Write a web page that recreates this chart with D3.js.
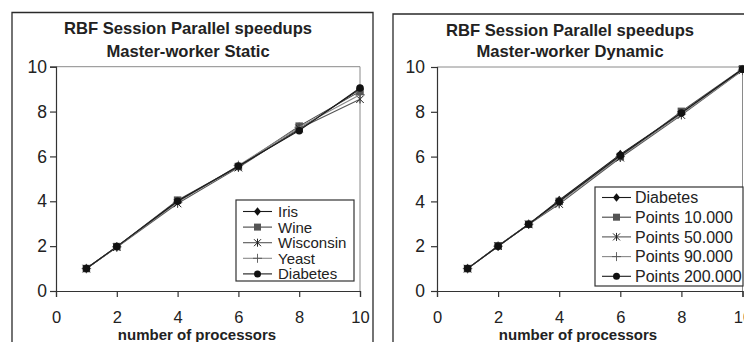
<!DOCTYPE html>
<html>
<head>
<meta charset="utf-8">
<script src="https://cdn.jsdelivr.net/npm/d3@7/dist/d3.min.js"></script>
<style>
  html, body { margin: 0; padding: 0; background: #fff; }
  svg { display: block; font-family: "Liberation Sans", Arial, sans-serif; }
</style>
</head>
<body>
<svg id="chart" width="744" height="342"></svg>
<script>
// Speedup measurements (speedup vs. number of processors)
const staticProcessors = [1, 2, 4, 6, 8, 10];
const staticSeriesNames = ["Iris", "Wine", "Wisconsin", "Yeast", "Diabetes"];
const staticIris      = [1, 1.97, 4.00, 5.55, 7.20, 9.00];
const staticWine      = [1, 1.98, 4.05, 5.55, 7.35, 8.90];
const staticWisconsin = [1, 1.95, 3.90, 5.50, 7.25, 8.55];
const staticYeast     = [1, 1.97, 3.95, 5.60, 7.30, 8.75];
const staticDiabetes  = [1, 1.98, 4.00, 5.57, 7.15, 9.05];

const dynamicProcessors = [1, 2, 3, 4, 6, 8, 10];
const dynamicSeriesNames = ["Diabetes", "Points 10.000", "Points 50.000", "Points 90.000", "Points 200.000"];
const dynamicDiabetes  = [1, 2.00, 2.98, 4.05, 6.10, 7.95, 9.90];
const dynamicP10000    = [1, 2.02, 2.98, 4.00, 6.00, 8.02, 9.92];
const dynamicP50000    = [1, 2.00, 2.97, 3.88, 5.95, 7.85, 9.85];
const dynamicP90000    = [1, 2.00, 2.98, 3.95, 6.00, 7.90, 9.85];
const dynamicP200000   = [1, 2.00, 2.98, 4.00, 6.05, 7.95, 9.90];

const axisTicks = [0, 2, 4, 6, 8, 10];
const titleLine1 = "RBF Session Parallel speedups";
const staticTitleLine2 = "Master-worker Static";
const dynamicTitleLine2 = "Master-worker Dynamic";
const xAxisTitle = "number of processors";

// marker style per legend position
const markerKinds = ["diamond", "square", "asterisk", "plus", "circle"];
const lineColors  = ["#1a1a1a", "#444", "#555", "#888", "#1a1a1a"];
const markFill    = ["#111", "#555", "#222", "#555", "#111"];

const svg = d3.select("#chart");

function drawMarker(g, kind, cx, cy, s, fill) {
  const h = s / 2;
  if (kind === "diamond") {
    g.append("path").attr("d", `M${cx},${cy - h - 0.8}L${cx + h},${cy}L${cx},${cy + h + 0.8}L${cx - h},${cy}Z`)
      .attr("fill", fill);
  } else if (kind === "square") {
    g.append("rect").attr("x", cx - h).attr("y", cy - h).attr("width", s).attr("height", s).attr("fill", fill);
  } else if (kind === "circle") {
    g.append("circle").attr("cx", cx).attr("cy", cy).attr("r", h).attr("fill", fill);
  } else if (kind === "asterisk") {
    g.append("path").attr("d",
      `M${cx - h},${cy - h}L${cx + h},${cy + h}M${cx - h},${cy + h}L${cx + h},${cy - h}M${cx},${cy - h - 0.5}L${cx},${cy + h + 0.5}`)
      .attr("stroke", fill).attr("stroke-width", 1).attr("fill", "none");
  } else if (kind === "plus") {
    g.append("path").attr("d", `M${cx - h - 1},${cy}L${cx + h + 1},${cy}M${cx},${cy - h - 1}L${cx},${cy + h + 1}`)
      .attr("stroke", fill).attr("stroke-width", 0.9).attr("fill", "none");
  }
}

function drawPanel(cfg) {
  const g = svg.append("g");

  // outer chart frame (runs past the bottom of the view)
  g.append("path")
    .attr("d", `M${cfg.frame.x0},360V${cfg.frame.y0}H${cfg.frame.x1}V360`)
    .attr("fill", "none").attr("stroke", "#2a2a2a").attr("stroke-width", 1.3);

  // titles
  g.append("text").attr("x", cfg.titleX).attr("y", cfg.titleY1).attr("text-anchor", "middle")
    .attr("font-weight", "bold").attr("font-size", 16.6).attr("fill", "#222").text(titleLine1);
  g.append("text").attr("x", cfg.titleX).attr("y", cfg.titleY2).attr("text-anchor", "middle")
    .attr("font-weight", "bold").attr("font-size", 16.6).attr("fill", "#222").text(cfg.title2);

  const x = d3.scaleLinear().domain([0, 10]).range([cfg.plot.x0, cfg.plot.x1]);
  const y = d3.scaleLinear().domain([0, 10]).range([cfg.plot.y1, cfg.plot.y0]);

  // plot area border (top and right)
  g.append("path")
    .attr("d", `M${x(0)},${y(10)}H${x(10)}V${y(0)}`)
    .attr("fill", "none").attr("stroke", "#8a8a8a").attr("stroke-width", 1);

  // axes
  const yAxis = d3.axisLeft(y).tickValues(axisTicks).tickSize(6).tickPadding(cfg.yPad);
  const xAxis = d3.axisBottom(x).tickValues(axisTicks).tickSize(6).tickPadding(14);
  const ya = g.append("g").attr("transform", `translate(${x(0)},0)`).call(yAxis);
  const xa = g.append("g").attr("transform", `translate(0,${y(0)})`).call(xAxis);
  [ya, xa].forEach(a => {
    a.select(".domain").attr("stroke", "#333").attr("stroke-width", 1.2);
    a.selectAll(".tick line").attr("stroke", "#333").attr("stroke-width", 1.2);
    a.selectAll(".tick text").attr("fill", "#222")
      .attr("font-family", "Liberation Sans, Arial, sans-serif");
  });
  ya.selectAll(".tick text").attr("font-size", 17.5);
  xa.selectAll(".tick text").attr("font-size", 16.5);

  // x-axis title
  g.append("text").attr("x", cfg.xTitleX).attr("y", 340).attr("text-anchor", "middle")
    .attr("font-weight", "bold").attr("font-size", 15).attr("fill", "#222").text(xAxisTitle);

  // series lines and markers
  const line = d3.line().x(d => x(d[0])).y(d => y(d[1]));
  cfg.series.forEach((vals, i) => {
    const pts = cfg.xs.map((p, j) => [p, vals[j]]);
    g.append("path").datum(pts).attr("d", line)
      .attr("fill", "none").attr("stroke", lineColors[i]).attr("stroke-width", 1.1);
    const mg = g.append("g");
    pts.forEach(p => drawMarker(mg, markerKinds[i], x(p[0]), y(p[1]), 7.5, markFill[i]));
  });

  // legend
  const L = cfg.legend;
  const lg = g.append("g");
  lg.append("rect").attr("x", L.x).attr("y", L.y).attr("width", L.w).attr("height", L.h)
    .attr("fill", "#fff").attr("stroke", "#333").attr("stroke-width", 1.2);
  cfg.names.forEach((name, i) => {
    const cy = L.y + L.first + i * L.step;
    lg.append("line").attr("x1", L.x + L.lineX0).attr("x2", L.x + L.lineX1)
      .attr("y1", cy).attr("y2", cy).attr("stroke", lineColors[i]).attr("stroke-width", 1.1);
    drawMarker(lg, markerKinds[i], L.x + (L.lineX0 + L.lineX1) / 2, cy, 7, markFill[i]);
    lg.append("text").attr("x", L.x + L.textX).attr("y", cy).attr("dy", "0.36em")
      .attr("font-size", L.font).attr("fill", "#222").text(name);
  });
}

drawPanel({
  frame: { x0: 12, y0: 12.5, x1: 373 },
  titleX: 188, titleY1: 34, titleY2: 57,
  title2: staticTitleLine2,
  plot: { x0: 56, x1: 360, y0: 66.7, y1: 291 },
  yPad: 3,
  xTitleX: 197,
  xs: staticProcessors,
  series: [staticIris, staticWine, staticWisconsin, staticYeast, staticDiabetes],
  names: staticSeriesNames,
  legend: { x: 236, y: 200, w: 118, h: 81, first: 11.5, step: 15.6, lineX0: 7, lineX1: 36, textX: 42, font: 15 }
});

drawPanel({
  frame: { x0: 393, y0: 14, x1: 760 },
  titleX: 570, titleY1: 36, titleY2: 57,
  title2: dynamicTitleLine2,
  plot: { x0: 437, x1: 742.5, y0: 67, y1: 291 },
  yPad: 6,
  xTitleX: 578,
  xs: dynamicProcessors,
  series: [dynamicDiabetes, dynamicP10000, dynamicP50000, dynamicP90000, dynamicP200000],
  names: dynamicSeriesNames,
  legend: { x: 595, y: 187, w: 148, h: 99, first: 10.5, step: 19.7, lineX0: 7, lineX1: 36, textX: 40, font: 16 }
});
</script>
</body>
</html>
